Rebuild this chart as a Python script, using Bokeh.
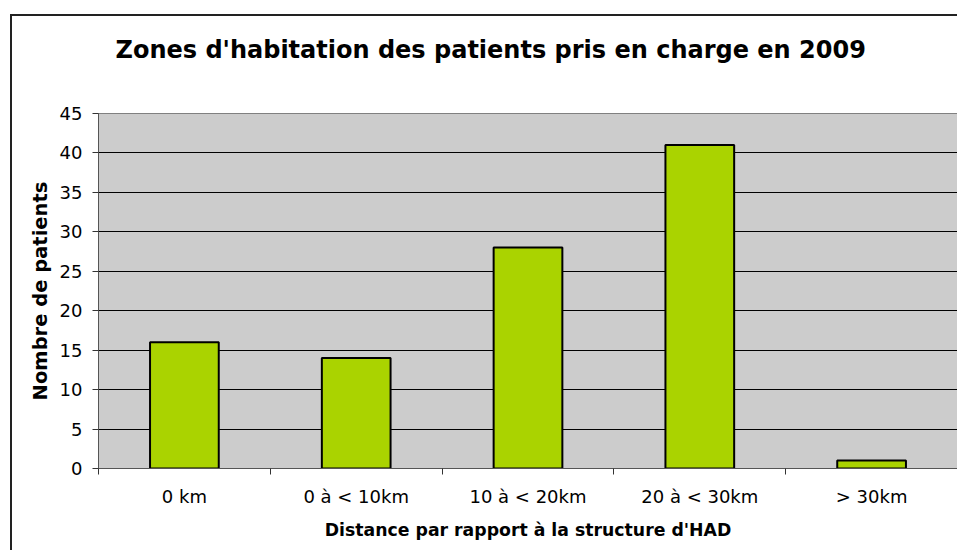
from bokeh.plotting import figure
from bokeh.models import Range1d, FixedTicker, Title, LinearAxis
from bokeh.embed import file_html
from bokeh.resources import INLINE

# --- data ---
categories = ["0 km", "0 à < 10km", "10 à < 20km", "20 à < 30km", "> 30km"]
patients = [16, 14, 28, 41, 1]
y_ticks = [0, 5, 10, 15, 20, 25, 30, 35, 40, 45]

title_text = "Zones d'habitation des patients pris en charge en 2009"
x_title = "Distance par rapport à la structure d'HAD"
y_title = "Nombre de patients"

FONT = "DejaVu Sans"

n = len(categories)
centers = [i + 0.5 for i in range(n)]        # category slot centres
bounds = [float(i) for i in range(n + 1)]     # category slot boundaries

p = figure(
    x_range=Range1d(0, n),
    y_range=Range1d(0, 45),
    width=947, height=536,
    output_backend="svg", toolbar_location=None,
    min_border_left=86, min_border_right=2, min_border_top=97, min_border_bottom=84,
    background_fill_color="#CCCCCC",
    border_fill_color="white",
    outline_line_color="#808080", outline_line_width=1,
    margin=(14, 0, 0, 10),
    styles={"border-top": "2px solid #222222", "border-left": "2px solid #222222"},
)

# bars
p.vbar(x=centers, top=patients, width=0.4, fill_color="#AAD300",
       line_color="black", line_width=2)

# x axis: labels at centres, minor ticks at boundaries
xax = p.xaxis[0]
xax.ticker = FixedTicker(ticks=centers, minor_ticks=bounds)
xax.major_label_overrides = {c: lab for c, lab in zip(centers, categories)}
xax.major_tick_line_color = None
xax.minor_tick_in = 0
xax.minor_tick_out = 6
xax.minor_tick_line_color = "#333333"
xax.axis_line_color = "#555555"
xax.major_label_text_font = FONT
xax.major_label_text_font_size = "18px"
xax.major_label_text_color = "black"
xax.major_label_standoff = 11
xax.axis_label = x_title
xax.axis_label_text_font = FONT
xax.axis_label_text_font_size = "17.3px"
xax.axis_label_text_font_style = "bold"
xax.axis_label_text_color = "black"
xax.axis_label_standoff = 10

# y axis
yax = p.yaxis[0]
yax.ticker = FixedTicker(ticks=y_ticks)
yax.minor_tick_line_color = None
yax.major_tick_in = 0
yax.major_tick_out = 6
yax.major_tick_line_color = "#333333"
yax.axis_line_color = "#555555"
yax.major_label_text_font = FONT
yax.major_label_text_font_size = "18px"
yax.major_label_text_color = "black"
yax.major_label_standoff = 10
yax.axis_label = y_title
yax.axis_label_text_font = FONT
yax.axis_label_text_font_size = "19.5px"
yax.axis_label_text_font_style = "bold"
yax.axis_label_text_color = "black"
yax.axis_label_standoff = 5

# grid
p.xgrid.grid_line_color = None
p.ygrid.ticker = FixedTicker(ticks=y_ticks)
p.ygrid.grid_line_color = "black"
p.ygrid.grid_line_width = 1

# spacer axis above the frame (white tick at the right edge, lifts the title)
spacer = LinearAxis(ticker=FixedTicker(ticks=[n]), axis_line_color=None,
                    major_tick_line_color="white", minor_tick_line_color=None,
                    major_tick_in=0, major_tick_out=45, minor_tick_out=0,
                    major_label_standoff=0, major_label_overrides={n: ""})
p.add_layout(spacer, "above")

# title
p.title = Title(text=title_text, align="left", offset=17, text_font=FONT,
                text_font_size="24px", text_font_style="bold",
                text_color="black", standoff=10)

open("out.html", "w").write(file_html(p, INLINE))
